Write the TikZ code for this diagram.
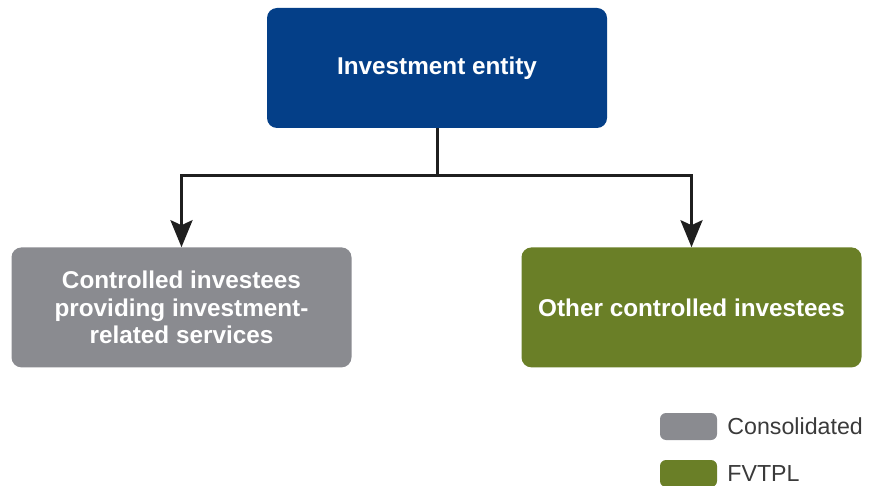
\documentclass[tikz,border=0pt]{standalone}
\usepackage{fontspec}
\setmainfont{Liberation Sans}
\usetikzlibrary{positioning,arrows.meta}

\definecolor{entityblue}{HTML}{043F88}
\definecolor{consgray}{HTML}{8A8B90}
\definecolor{fvgreen}{HTML}{6A7F27}
\definecolor{legendtext}{HTML}{3A3A3A}

\tikzset{
  box/.style = {rounded corners=10pt, minimum width=340pt, minimum height=120pt,
    align=center, text=white, font=\fontsize{24.3}{27.5}\selectfont\bfseries,
    inner sep=0pt},
  swatch/.style = {rounded corners=6pt, minimum width=57pt, minimum height=27pt,
    inner sep=0pt},
  legend/.style = {right=10pt of #1, anchor=west, text=legendtext,
    font=\fontsize{23.2}{25}\selectfont, inner sep=0pt},
  link/.style = {line width=3pt, draw=black!88},
  tip/.style = {-{Stealth[length=27pt, width=22pt, inset=5pt]}}
}

\begin{document}
\begin{tikzpicture}[x=1pt, y=-1pt]
  \useasboundingbox (0,0) rectangle (869,486);

  \node[box, fill=entityblue] (entity) at (437,68) {Investment entity};
  \node[box, fill=consgray, below=119pt of entity, xshift=-255.5pt] (services)
    {Controlled investees\\providing investment-\\related services};
  \node[box, fill=fvgreen, below=119pt of entity, xshift=254.5pt] (other)
    {Other controlled investees};

  \coordinate (split) at (437,176);
  \draw[link] (entity.south) -- (split);
  \draw[link, tip] (split) -| (services.north);
  \draw[link, tip] (split) -| (other.north);

  % legend
  \node[swatch, fill=consgray] (conssw) at (688.5,426.5) {};
  \node[swatch, fill=fvgreen] (fvsw) at (688.5,473.5) {};
  \node[legend=conssw] (conslab) {Consolidated};
  \node[legend=fvsw] (fvlab) {FVTPL};
\end{tikzpicture}
\end{document}
